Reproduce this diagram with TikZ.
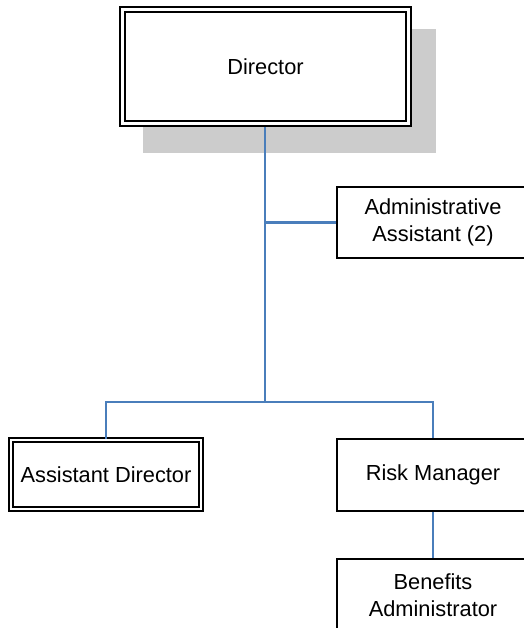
\documentclass[tikz,border=0pt]{standalone}
\usepackage{fontspec}
\setmainfont{Liberation Sans}
\usetikzlibrary{calc,backgrounds}
\definecolor{linkblue}{HTML}{4A7EBB}
\definecolor{shadowgray}{HTML}{CCCCCC}
\tikzset{
  unit/.style={draw=black, line width=1.6pt, fill=white, rectangle,
    inner sep=0pt, align=center,
    font=\fontsize{21.8}{26.5}\selectfont},
  lead/.style={unit, double=white, double distance=3.4pt},
  lead2/.style={unit, double=white, double distance=2.4pt},
  link/.style={draw=linkblue, line width=2.2pt}
}
\begin{document}
\begin{tikzpicture}[x=1pt, y=-1pt]
  \useasboundingbox (0,0) rectangle (523,628);

  % boxes
  \node[lead, minimum width=286pt, minimum height=114pt] (dir) at (265.5,66.5) {Director};
  \node[unit, minimum width=192pt, minimum height=71pt] (adm) at (433,222.5)
    {Administrative\\Assistant (2)};
  \node[lead2, minimum width=190pt, minimum height=69pt] (ad) at (106,474.5)
    {Assistant Director};
  \node[unit, minimum width=192pt, minimum height=72pt] (rm) at (433,475)
    {Risk Manager};
  \node[unit, minimum width=192pt, minimum height=72pt] (ba) at (433,595)
    {Benefits\\Administrator};

  % shadow behind the director box
  \begin{scope}[on background layer]
    \fill[shadowgray] ($(dir.north west)+(21.5,20.5)$) rectangle ($(dir.south east)+(26.5,28.5)$);
  \end{scope}

  % connectors
  \coordinate (tap) at (265,222.5);
  \coordinate (bus) at (265,402);
  \begin{scope}[on background layer]
    \draw[link] (265,0 |- dir.south) -- (bus);
  \end{scope}
  \draw[link] (tap) -- (adm.west);
  \draw[link] (ad.north) |- (bus) -| (rm.north);
  \draw[link] (rm.south) -- (ba.north);
\end{tikzpicture}
\end{document}
